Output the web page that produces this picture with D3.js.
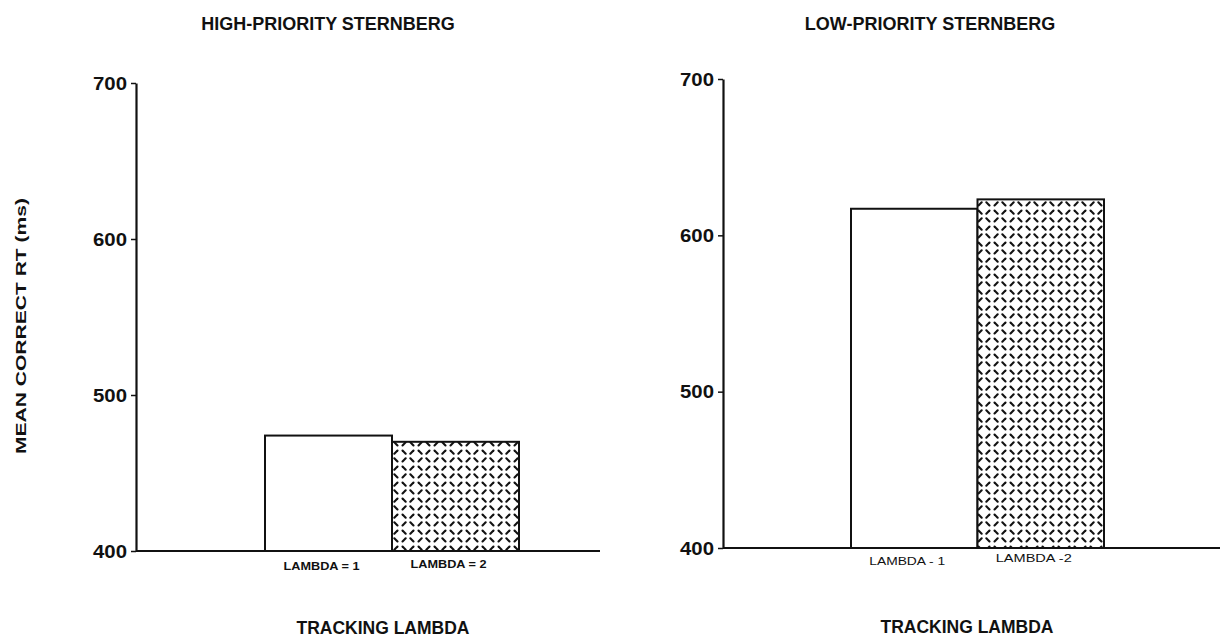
<!DOCTYPE html>
<html>
<head>
<meta charset="utf-8">
<script src="https://cdn.jsdelivr.net/npm/d3@7"></script>
<style>
  html, body { margin: 0; padding: 0; background: #fff; }
  svg { display: block; }
  text { font-family: "Liberation Sans", Arial, Helvetica, sans-serif; fill: #111; }
</style>
</head>
<body>
<svg id="chart" width="1220" height="641"></svg>
<script>
// Data: mean correct reaction time (ms) by tracking lambda
const panelTitles = ["HIGH-PRIORITY STERNBERG", "LOW-PRIORITY STERNBERG"];
const categories = ["lambda1", "lambda2"];
const highPriorityRT = [474, 470];
const lowPriorityRT = [617, 623];
const barLabelsHigh = ["LAMBDA = 1", "LAMBDA = 2"];
const barLabelsLow = ["LAMBDA - 1", "LAMBDA -2"];
const yTicks = [400, 500, 600, 700];
const yDomain = [400, 700];
const xAxisTitle = "TRACKING LAMBDA";
const yAxisTitle = "MEAN CORRECT RT (ms)";

const svg = d3.select("#chart");

// Short slanted-dash fill for the second bar
const defs = svg.append("defs");
const pat = defs.append("pattern")
  .attr("id", "dashFill")
  .attr("patternUnits", "userSpaceOnUse")
  .attr("width", 16).attr("height", 16);
pat.append("rect").attr("width", 16).attr("height", 16).attr("fill", "#fff");
[[2.5, 2.5, 5.7, 5.7], [10.3, 5.7, 13.5, 2.5], [2.5, 13.5, 5.7, 10.3], [10.3, 10.3, 13.5, 13.5]].forEach(s => {
  pat.append("line")
    .attr("x1", s[0]).attr("y1", s[1]).attr("x2", s[2]).attr("y2", s[3])
    .attr("stroke", "#111").attr("stroke-width", 2.1).attr("stroke-linecap", "round");
});

const panels = [
  {
    title: panelTitles[0], values: highPriorityRT, labels: barLabelsHigh, bold: true,
    axisX: 136, yTop: 83, yBottom: 551, barLeft: 265, barRight: 519, baseEnd: 600,
    titleX: 328, titleY: 30, xTitleX: 383, xTitleY: 634, labelDy: [19, 17]
  },
  {
    title: panelTitles[1], values: lowPriorityRT, labels: barLabelsLow, bold: false,
    axisX: 723, yTop: 79, yBottom: 548, barLeft: 851, barRight: 1104, baseEnd: 1220,
    titleX: 930, titleY: 30, xTitleX: 967, xTitleY: 633, labelDy: [17, 14]
  }
];

panels.forEach(p => {
  const g = svg.append("g");
  const y = d3.scaleLinear().domain(yDomain).range([p.yBottom, p.yTop]);
  const x = d3.scaleBand().domain(categories).range([p.barLeft, p.barRight]).paddingInner(0);

  // Baseline
  g.append("line")
    .attr("x1", p.axisX).attr("x2", p.baseEnd)
    .attr("y1", y(yDomain[0])).attr("y2", y(yDomain[0]))
    .attr("stroke", "#111").attr("stroke-width", 1.8);

  // Bars
  g.selectAll("rect.bar")
    .data(p.values)
    .join("rect")
    .attr("class", "bar")
    .attr("x", (d, i) => x(categories[i]))
    .attr("y", d => y(d))
    .attr("width", x.bandwidth())
    .attr("height", d => y(yDomain[0]) - y(d))
    .attr("fill", (d, i) => i === 0 ? "#fff" : "url(#dashFill)")
    .attr("stroke", "#111")
    .attr("stroke-width", 2);

  // Category labels under the bars
  g.selectAll("text.cat")
    .data(p.labels)
    .join("text")
    .attr("class", "cat")
    .attr("x", (d, i) => x(categories[i]) + x.bandwidth() / 2 - 7)
    .attr("y", (d, i) => y(yDomain[0]) + p.labelDy[i])
    .attr("text-anchor", "middle")
    .attr("font-size", 11)
    .attr("font-weight", p.bold ? "bold" : "normal")
    .attr("textLength", 76)
    .attr("lengthAdjust", "spacingAndGlyphs")
    .text(d => d);

  // Y axis
  const axis = g.append("g")
    .attr("transform", `translate(${p.axisX},0)`)
    .call(d3.axisLeft(y).tickValues(yTicks).tickSize(5).tickSizeOuter(0).tickPadding(4));
  axis.select(".domain").attr("stroke", "#111").attr("stroke-width", 2.2);
  axis.selectAll(".tick line").attr("stroke", "#111").attr("stroke-width", 1.5);
  axis.selectAll(".tick text")
    .attr("font-size", 19).attr("font-weight", "bold")
    .attr("font-family", "'Liberation Sans', Arial, sans-serif")
    .attr("textLength", 34)
    .attr("lengthAdjust", "spacingAndGlyphs")
    .attr("fill", "#111");

  // Panel title
  g.append("text")
    .attr("x", p.titleX).attr("y", p.titleY)
    .attr("text-anchor", "middle")
    .attr("font-size", 18).attr("font-weight", "bold")
    .text(p.title);

  // X axis title
  g.append("text")
    .attr("x", p.xTitleX).attr("y", p.xTitleY)
    .attr("text-anchor", "middle")
    .attr("font-size", 17.5).attr("font-weight", "bold")
    .text(xAxisTitle);
});

// Shared y axis title
svg.append("text")
  .attr("transform", "translate(26,326) rotate(-90)")
  .attr("text-anchor", "middle")
  .attr("font-size", 15).attr("font-weight", "bold")
  .attr("textLength", 256)
  .attr("lengthAdjust", "spacingAndGlyphs")
  .text(yAxisTitle);
</script>
</body>
</html>
